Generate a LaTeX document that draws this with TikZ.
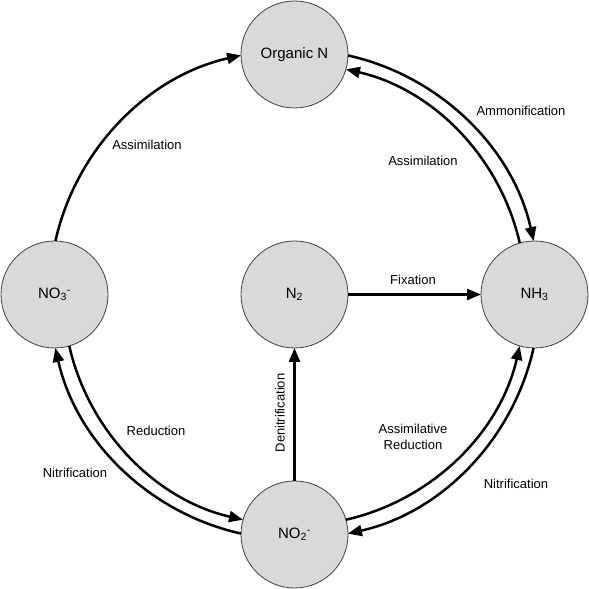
\documentclass[tikz,border=0pt]{standalone}
\usepackage{fontspec}
\setmainfont{Liberation Sans}
\usetikzlibrary{arrows.meta}
\definecolor{nodefill}{HTML}{D9D9D9}
\definecolor{nodeline}{HTML}{404040}
\begin{document}
\begin{tikzpicture}[x=1pt,y=1pt,
  species/.style={circle,draw=nodeline,line width=0.8pt,fill=nodefill,minimum size=107pt,inner sep=0pt,outer sep=0pt,font=\fontsize{15}{18}\selectfont},
  flow/.style={line width=2.5pt,-{Triangle[length=14pt,width=11pt]}},
  lbl/.style={font=\fontsize{13}{16}\selectfont,inner sep=0pt,align=center}]
\useasboundingbox (0,0) rectangle (589,589);
\coordinate (C) at (294.5,294.5);
\node[species] (ON)  at (294.5,534.5) {Organic N};
\node[species] (NO3) at (54.5,294.5) {NO\textsubscript{3}\textsuperscript{-}};
\node[species] (N2)  at (294.5,294.5) {N\textsubscript{2}};
\node[species] (NH3) at (534.5,294.5) {NH\textsubscript{3}};
\node[species] (NO2) at (294.5,54.5) {NO\textsubscript{2}\textsuperscript{-}};
% straight connectors
\draw[flow] (N2.east) -- (NH3.west);
\draw[flow] (NO2.north) -- (N2.south);
% arcs
\draw[flow] (NO3.89) arc[start angle=167.4,end angle=102.6,radius=245pt];
\draw[flow] (ON.-1) arc[start angle=77.4,end angle=12.6,radius=245pt];
\draw[flow] (NH3.106.1) arc[start angle=12.86,end angle=77.14,radius=231pt];
\draw[flow] (NH3.269) arc[start angle=-12.6,end angle=-77.4,radius=245pt];
\draw[flow] (NO2.16.1) arc[start angle=-77.14,end angle=-12.86,radius=231pt];
\draw[flow] (NO2.179) arc[start angle=257.4,end angle=192.6,radius=245pt];
\draw[flow] (NO3.286.1) arc[start angle=192.86,end angle=257.14,radius=231pt];
% labels
\node[lbl] (lAssL) at (147,444) {Assimilation};
\node[lbl] (lAmm) at (521,478) {Ammonification};
\node[lbl] (lAssR) at (423,428) {Assimilation};
\node[lbl] (lFix) at (413,309) {Fixation};
\node[lbl,rotate=90] (lDen) at (280,176) {Denitrification};
\node[lbl] (lRed) at (156,158) {Reduction};
\node[lbl] (lNitL) at (75,116) {Nitrification};
\node[lbl] (lAR) at (413,152) {Assimilative\\Reduction};
\node[lbl] (lNitR) at (516,105) {Nitrification};
\end{tikzpicture}
\end{document}
